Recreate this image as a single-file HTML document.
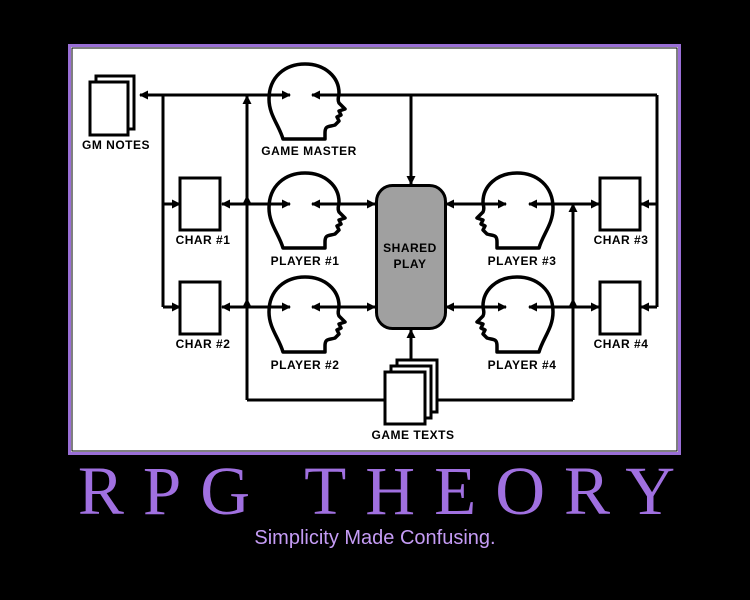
<!DOCTYPE html>
<html><head><style>
html,body{margin:0;padding:0;background:#000;width:750px;height:600px;overflow:hidden}
</style></head><body>
<svg width="750" height="600" viewBox="0 0 750 600" xmlns="http://www.w3.org/2000/svg">
<defs>
<marker id="a" markerWidth="9" markerHeight="9" refX="8" refY="4.5" orient="auto" markerUnits="userSpaceOnUse"><path d="M0,0 L9,4.5 L0,9 z" fill="#000"/></marker>
<g id="head"><path d="M18,76 C14,62 4,52 4,36 C4,14 20,1 40,1 C60,1 74,14 74,30 C74,34 72,36 74,40 L80,46 L74,48 L76,52 L72,54 L74,58 L70,62 C64,64 60,62 60,70 L60,76 Z" fill="#fff" stroke="#000" stroke-width="3.5" stroke-linejoin="round"/></g>
</defs>
<rect x="69.5" y="45.5" width="610" height="408" fill="#fff" stroke="#9a6fd6" stroke-width="3"/>
<rect x="72" y="48" width="605" height="403" fill="none" stroke="#000" stroke-width="1"/>
<g stroke="#000" stroke-width="3" fill="none">
<line x1="657" y1="95" x2="140" y2="95" marker-end="url(#a)"/>
<line x1="163" y1="95" x2="163" y2="307"/>
<line x1="163" y1="204" x2="180" y2="204" marker-end="url(#a)"/>
<line x1="163" y1="307" x2="180" y2="307" marker-end="url(#a)"/>
<line x1="247" y1="400" x2="247" y2="96" marker-end="url(#a)"/>
<line x1="247" y1="220" x2="247" y2="196" marker-end="url(#a)"/>
<line x1="247" y1="320" x2="247" y2="299" marker-end="url(#a)"/>
<line x1="247" y1="400" x2="573" y2="400"/>
<line x1="573" y1="400" x2="573" y2="204" marker-end="url(#a)"/>
<line x1="573" y1="320" x2="573" y2="299" marker-end="url(#a)"/>
<line x1="657" y1="95" x2="657" y2="307"/>
<line x1="657" y1="204" x2="641" y2="204" marker-end="url(#a)"/>
<line x1="657" y1="307" x2="641" y2="307" marker-end="url(#a)"/>
<line x1="411" y1="95" x2="411" y2="184" marker-end="url(#a)"/>
<line x1="411" y1="372" x2="411" y2="330" marker-end="url(#a)"/>
<g id="rowL">
<line x1="250" y1="204" x2="222" y2="204" marker-end="url(#a)"/>
<line x1="335" y1="204" x2="375" y2="204" marker-end="url(#a)"/>
</g>
<use href="#rowL" transform="translate(0,103)"/>
<g id="rowR">
<line x1="480" y1="204" x2="446" y2="204" marker-end="url(#a)"/>
<line x1="555" y1="204" x2="599" y2="204" marker-end="url(#a)"/>
</g>
<use href="#rowR" transform="translate(0,103)"/>
</g>
<use href="#head" transform="translate(265,63)"/>
<use href="#head" transform="translate(265,172)"/>
<use href="#head" transform="translate(265,276)"/>
<use href="#head" transform="translate(557,172) scale(-1,1)"/>
<use href="#head" transform="translate(557,276) scale(-1,1)"/>
<g stroke="#000" stroke-width="3" fill="none">
<line x1="250" y1="95" x2="290" y2="95" marker-end="url(#a)"/>
<line x1="345" y1="95" x2="312" y2="95" marker-end="url(#a)"/>
<line x1="245" y1="204" x2="290" y2="204" marker-end="url(#a)"/>
<line x1="350" y1="204" x2="312" y2="204" marker-end="url(#a)"/>
<line x1="245" y1="307" x2="290" y2="307" marker-end="url(#a)"/>
<line x1="350" y1="307" x2="312" y2="307" marker-end="url(#a)"/>
<line x1="474" y1="204" x2="506" y2="204" marker-end="url(#a)"/>
<line x1="575" y1="204" x2="529" y2="204" marker-end="url(#a)"/>
<line x1="474" y1="307" x2="506" y2="307" marker-end="url(#a)"/>
<line x1="575" y1="307" x2="529" y2="307" marker-end="url(#a)"/>
</g>
<g fill="#fff" stroke="#000" stroke-width="3">
<rect x="96" y="76" width="38" height="53"/>
<rect x="90" y="82" width="38" height="53"/>
<rect x="180" y="178" width="40" height="52"/>
<rect x="180" y="282" width="40" height="52"/>
<rect x="600" y="178" width="40" height="52"/>
<rect x="600" y="282" width="40" height="52"/>
<rect x="397" y="360" width="40" height="52"/>
<rect x="391" y="366" width="40" height="52"/>
<rect x="385" y="372" width="40" height="52"/>
<rect x="376.5" y="185.5" width="69" height="143" rx="16" fill="#a0a0a0"/>
</g>
<g font-family="Liberation Sans, sans-serif" font-weight="bold" font-size="12" fill="#000" text-anchor="middle" letter-spacing="0.5">
<text x="116" y="149">GM NOTES</text>
<text x="309" y="155">GAME MASTER</text>
<text x="203" y="244">CHAR #1</text>
<text x="305" y="265">PLAYER #1</text>
<text x="203" y="348">CHAR #2</text>
<text x="305" y="369">PLAYER #2</text>
<text x="410" y="252">SHARED</text>
<text x="410" y="268">PLAY</text>
<text x="522" y="265">PLAYER #3</text>
<text x="522" y="369">PLAYER #4</text>
<text x="621" y="244">CHAR #3</text>
<text x="621" y="348">CHAR #4</text>
<text x="413" y="439">GAME TEXTS</text>
</g>
<text x="386" y="514" text-anchor="middle" font-family="Liberation Serif, serif" font-size="69" letter-spacing="19" fill="#a070e0">RPG THEORY</text>
<text x="375" y="544" text-anchor="middle" font-family="Liberation Sans, sans-serif" font-size="20" fill="#c59cf5">Simplicity Made Confusing.</text>
</svg>
</body></html>
